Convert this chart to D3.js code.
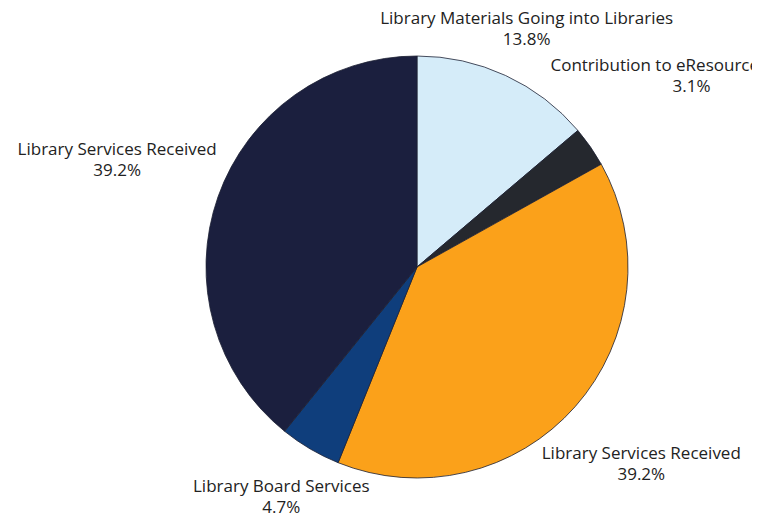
<!DOCTYPE html>
<html>
<head>
<meta charset="utf-8">
<script src="https://cdn.jsdelivr.net/npm/d3@7"></script>
<style>
  body { margin: 0; background: #fff; }
  svg text { font-family: "Open Sans", "Noto Sans", sans-serif; fill: #222; }
</style>
</head>
<body>
<div class="pie-chart"></div>
<script>
// chart data, clockwise from 12 o'clock
const categories = [
    "Library Materials Going into Libraries",
    "Contribution to eResources",
    "Library Services Received",
    "Library Board Services",
    "Library Services Received"
];
const shares = [13.8, 3.1, 39.2, 4.7, 39.2];
const sliceColors = ["#d5ecf9", "#25282e", "#fba11a", "#0f3e7c", "#1b1f3e"];

const width = 771;
const height = 519;
const cx = 417, cy = 267, radius = 211;

// how far out each label sits along its slice's mid angle
const labelRadius = [261, 334, 299, 268, 318];
// the eResources name is left-aligned from here (relative to label centre)
const nameAnchor = ['middle', 'start', 'middle', 'middle', 'middle'];
const nameDx = [0, -141, 0, 0, 0];

const svg = d3.select('.pie-chart')
    .append('svg')
    .attr('width', width)
    .attr('height', height);

// labels running past this edge get cut off, like the original
svg.append('clipPath')
    .attr('id', 'clip')
    .append('rect')
    .attr('x', 0).attr('y', 0)
    .attr('width', 752).attr('height', height);

const pie = d3.pie().sort(null).value(d => d);
const arcs = pie(shares);
const arc = d3.arc().innerRadius(0).outerRadius(radius);

const g = svg.append('g').attr('transform', `translate(${cx},${cy})`);

g.selectAll('path')
    .data(arcs)
    .enter()
    .append('path')
    .attr('d', arc)
    .attr('fill', (d, i) => sliceColors[i])
    .attr('stroke', '#1d2133')
    .attr('stroke-width', 0.8);

//labels: name + percent, centred on a point along the slice mid angle
const labels = svg.append('g').attr('clip-path', 'url(#clip)');
const fontSize = 17;

const labelPos = (d, i) => {
    const a = (d.startAngle + d.endAngle) / 2;
    return [cx + Math.sin(a) * labelRadius[i], cy - Math.cos(a) * labelRadius[i]];
};

labels.selectAll('text.name')
    .data(arcs)
    .enter()
    .append('text')
    .attr('class', 'name')
    .attr('font-size', fontSize)
    .attr('text-anchor', (d, i) => nameAnchor[i])
    .attr('x', (d, i) => labelPos(d, i)[0] + nameDx[i])
    .attr('y', (d, i) => labelPos(d, i)[1] - 6)
    .text((d, i) => categories[i]);

labels.selectAll('text.pct')
    .data(arcs)
    .enter()
    .append('text')
    .attr('class', 'pct')
    .attr('font-size', fontSize)
    .attr('text-anchor', 'middle')
    .attr('x', (d, i) => labelPos(d, i)[0])
    .attr('y', (d, i) => labelPos(d, i)[1] + 15)
    .text(d => d3.format('.1f')(d.data) + '%');
</script>
</body>
</html>
